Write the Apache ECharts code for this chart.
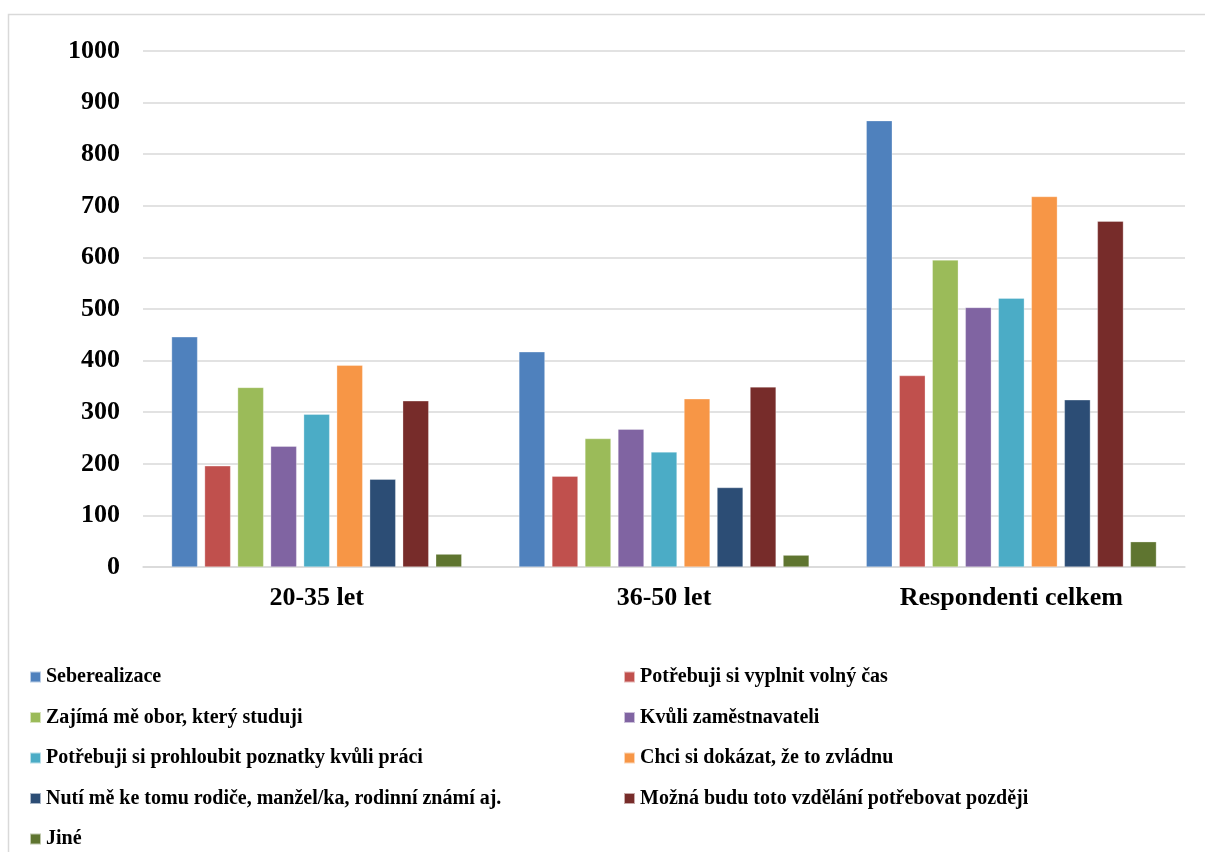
<!DOCTYPE html>
<html>
<head>
<meta charset="utf-8">
<script src="https://cdn.jsdelivr.net/npm/echarts@6/dist/echarts.min.js"></script>
<style>
  html, body { margin: 0; padding: 0; background: #fff; }
  #chart { width: 1205px; height: 852px; }
</style>
</head>
<body>
<div id="chart"></div>
<script>
// age groups on the x axis
const categories = ['20-35 let', '36-50 let', 'Respondenti celkem'];

// reasons (series names)
const reasons = [
  'Seberealizace',
  'Potřebuji si vyplnit volný čas',
  'Zajímá mě obor, který studuji',
  'Kvůli zaměstnavateli',
  'Potřebuji si prohloubit poznatky kvůli práci',
  'Chci si dokázat, že to zvládnu',
  'Nutí mě ke tomu rodiče, manžel/ka, rodinní známí aj.',
  'Možná budu toto vzdělání potřebovat později',
  'Jiné'
];

// values per reason: [20-35, 36-50, celkem]
const seberealizace = [446, 417, 865];
const volnyCas      = [196, 176, 371];
const obor          = [348, 249, 595];
const zamestnavatel = [234, 267, 503];
const poznatky      = [296, 223, 521];
const dokazat       = [391, 326, 718];
const nuti          = [170, 154, 324];
const pozdeji       = [322, 349, 670];
const jine          = [25, 23, 49];

const values = [seberealizace, volnyCas, obor, zamestnavatel, poznatky, dokazat, nuti, pozdeji, jine];

const colors = ['#4F81BD', '#C0504D', '#9BBB59', '#8064A2', '#4BACC6', '#F79646', '#2C4D75', '#772C2A', '#5F7530'];

const font = '"Liberation Serif", "Times New Roman", serif';

const myChart = echarts.init(document.getElementById('chart'));

const legendText = {
  fontFamily: font,
  fontWeight: 'bold',
  fontSize: 20,
  color: '#000',
  lineHeight: 20
};

myChart.setOption({
  color: colors,
  animation: false,
  graphic: [{
    type: 'rect',
    shape: { x: 8.5, y: 14.5, width: 1300, height: 900 },
    style: { fill: 'none', stroke: '#d9d9d9', lineWidth: 1.5 },
    silent: true
  }],
  grid: { left: 143, right: 20, top: 51, bottom: 285, containLabel: false },
  legend: [{
    orient: 'vertical',
    left: 29,
    top: 667,
    padding: 0,
    itemWidth: 11,
    itemHeight: 11,
    itemGap: 20.5,
    icon: 'rect',
    textStyle: legendText,
    data: reasons.filter((r, i) => i % 2 === 0)
  }, {
    orient: 'vertical',
    left: 623,
    top: 667,
    padding: 0,
    itemWidth: 11,
    itemHeight: 11,
    itemGap: 20.5,
    icon: 'rect',
    textStyle: legendText,
    data: reasons.filter((r, i) => i % 2 === 1)
  }],
  xAxis: {
    type: 'category',
    data: categories,
    axisLine: { lineStyle: { color: '#d9d9d9', width: 1.5 } },
    axisTick: { show: false },
    axisLabel: {
      fontFamily: font,
      fontWeight: 'bold',
      fontSize: 26,
      color: '#000',
      margin: 18
    }
  },
  yAxis: {
    type: 'value',
    min: 0,
    max: 1000,
    interval: 100,
    axisLine: { show: false },
    axisTick: { show: false },
    splitLine: { lineStyle: { color: '#d9d9d9', width: 1.5 } },
    axisLabel: {
      fontFamily: font,
      fontWeight: 'bold',
      fontSize: 26,
      color: '#000',
      margin: 23,
      formatter: (v) => String(v)
    }
  },
  series: reasons.map((name, i) => ({
    name: name,
    type: 'bar',
    data: values[i],
    barWidth: 26,
    barGap: '27%',
    itemStyle: { borderColor: 'rgba(255,255,255,0.6)', borderWidth: 0.5 }
  }))
});
</script>
</body>
</html>
